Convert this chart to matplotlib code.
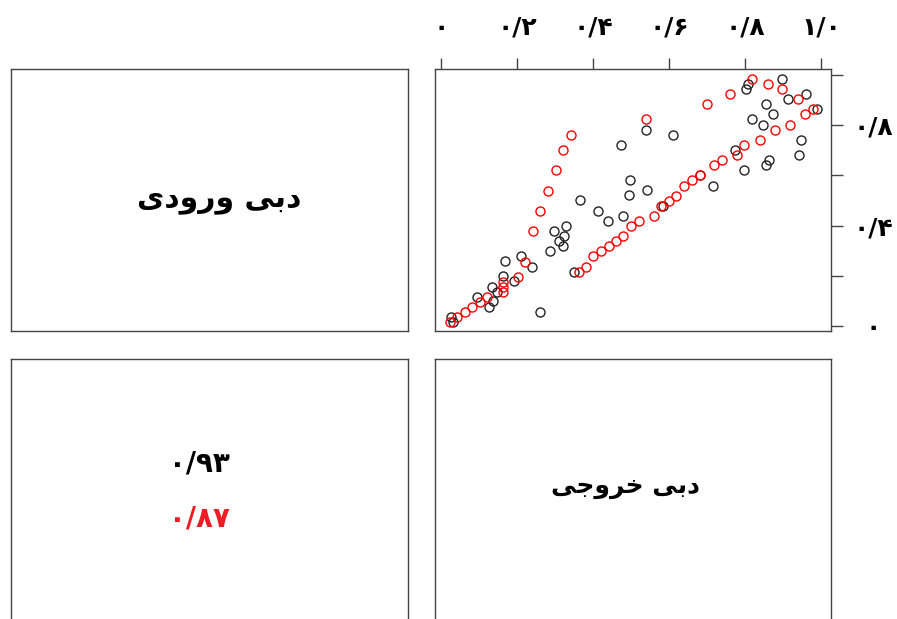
import matplotlib.pyplot as plt

plt.rcParams['font.family'] = ['DejaVu Sans']

# observed inflow / outflow pairs (black) and model pairs (red)
obs_x = [0.026, 0.031, 0.095, 0.126, 0.136, 0.133, 0.148, 0.164, 0.168, 0.191,
         0.210, 0.240, 0.261, 0.287, 0.297, 0.310, 0.320, 0.324, 0.330, 0.351,
         0.366, 0.412, 0.438, 0.478, 0.473, 0.494, 0.497, 0.538, 0.543, 0.583,
         0.609, 0.680, 0.716, 0.774, 0.797, 0.802, 0.807, 0.818, 0.847, 0.854,
         0.855, 0.863, 0.874, 0.896, 0.913, 0.943, 0.946, 0.961, 0.990]
obs_y = [0.035, 0.015, 0.116, 0.076, 0.098, 0.155, 0.134, 0.198, 0.258, 0.178,
         0.279, 0.236, 0.055, 0.298, 0.378, 0.337, 0.318, 0.359, 0.400, 0.217,
         0.501, 0.459, 0.420, 0.438, 0.722, 0.521, 0.580, 0.781, 0.541, 0.478,
         0.762, 0.602, 0.559, 0.701, 0.620, 0.944, 0.964, 0.823, 0.802, 0.883,
         0.641, 0.663, 0.843, 0.984, 0.903, 0.681, 0.741, 0.924, 0.863]

sim_x = [0.023, 0.042, 0.062, 0.082, 0.103, 0.122, 0.163, 0.163, 0.163, 0.202,
         0.221, 0.241, 0.261, 0.282, 0.302, 0.322, 0.341, 0.362, 0.382, 0.401,
         0.421, 0.441, 0.461, 0.480, 0.500, 0.520, 0.540, 0.561, 0.579, 0.599,
         0.619, 0.639, 0.659, 0.682, 0.699, 0.719, 0.739, 0.759, 0.779, 0.798,
         0.819, 0.839, 0.859, 0.878, 0.898, 0.918, 0.938, 0.958, 0.978]
sim_y = [0.015, 0.035, 0.055, 0.075, 0.094, 0.114, 0.137, 0.157, 0.176, 0.195,
         0.256, 0.377, 0.459, 0.539, 0.622, 0.701, 0.762, 0.216, 0.236, 0.277,
         0.298, 0.318, 0.337, 0.359, 0.398, 0.420, 0.823, 0.438, 0.479, 0.500,
         0.519, 0.559, 0.580, 0.602, 0.883, 0.640, 0.661, 0.924, 0.680, 0.721,
         0.984, 0.741, 0.964, 0.781, 0.943, 0.802, 0.903, 0.843, 0.863]

tick_vals = [0.0, 0.2, 0.4, 0.6, 0.8, 1.0]
x_tick_labels = ['\u06f0', '\u06f0/\u06f2', '\u06f0/\u06f4', '\u06f0/\u06f6', '\u06f0/\u06f8', '\u06f1/\u06f0']
y_tick_labels = ['\u06f0', '', '\u06f0/\u06f4', '', '\u06f0/\u06f8', '']

# Persian labels, pre-shaped (presentation forms) in visual order
label_in = '\uFEEF\uFEA9\uFEED\uFEAD\uFEED \uFEF0\uFE91\uFEA9'    # دبی ورودی
label_out = '\uFEF0\uFE9F\uFEED\uFEAE\uFEA7 \uFEF0\uFE91\uFEA9'   # دبی خروجی
corr_obs = '\u06f0/\u06f9\u06f3'
corr_sim = '\u06f0/\u06f8\u06f7'

frame_col = '#444444'
red_col = '#ee1c24'

fig = plt.figure(figsize=(8.97, 6.19), dpi=100)

W, H = 897, 619


def panel(x0, y0, x1, y1):
    ax = fig.add_axes([x0 / W, 1 - y1 / H, (x1 - x0) / W, (y1 - y0) / H])
    for s in ax.spines.values():
        s.set_color(frame_col)
        s.set_linewidth(1.0)
    return ax


ax_tl = panel(11, 69, 408, 331)
ax_tr = panel(435, 69, 831, 331)
ax_bl = panel(11, 359, 408, 621)
ax_br = panel(435, 359, 831, 621)

for ax in (ax_tl, ax_bl, ax_br):
    ax.set_xticks([])
    ax.set_yticks([])
    ax.set_xlim(0, 1)
    ax.set_ylim(0, 1)

ax_tl.text(0.525, 0.5, label_in, ha='center', va='center', fontsize=21.5, fontweight='bold')
ax_br.text(0.48, 0.51, label_out, ha='center', va='center', fontsize=18, fontweight='bold')
ax_bl.text(0.475, 0.6, corr_obs, ha='center', va='center', fontsize=20, fontweight='bold', color='black')
ax_bl.text(0.475, 0.39, corr_sim, ha='center', va='center', fontsize=20, fontweight='bold', color=red_col)

# scatter panel
ax_tr.plot(obs_x, obs_y, 'o', mfc='none', mec='#222222', ms=6.5, mew=1.0)
ax_tr.plot(sim_x, sim_y, 'o', mfc='none', mec='red', ms=6.5, mew=1.0)
ax_tr.set_xlim(-0.016, 1.026)
ax_tr.set_ylim(-0.02, 1.024)

ax_tr.xaxis.tick_top()
ax_tr.set_xticks(tick_vals)
ax_tr.set_xticklabels(x_tick_labels, fontsize=18, fontweight='bold')
ax_tr.tick_params(axis='x', direction='out', length=8, width=1, color=frame_col, pad=13)

ax_tr.yaxis.tick_right()
ax_tr.set_yticks(tick_vals)
ax_tr.set_yticklabels(y_tick_labels, fontsize=18, fontweight='bold')
ax_tr.tick_params(axis='y', direction='out', length=8.5, width=1, color=frame_col, pad=22)
for lab in ax_tr.get_yticklabels():
    lab.set_horizontalalignment('center')

fig.savefig('out.png', dpi=100)
